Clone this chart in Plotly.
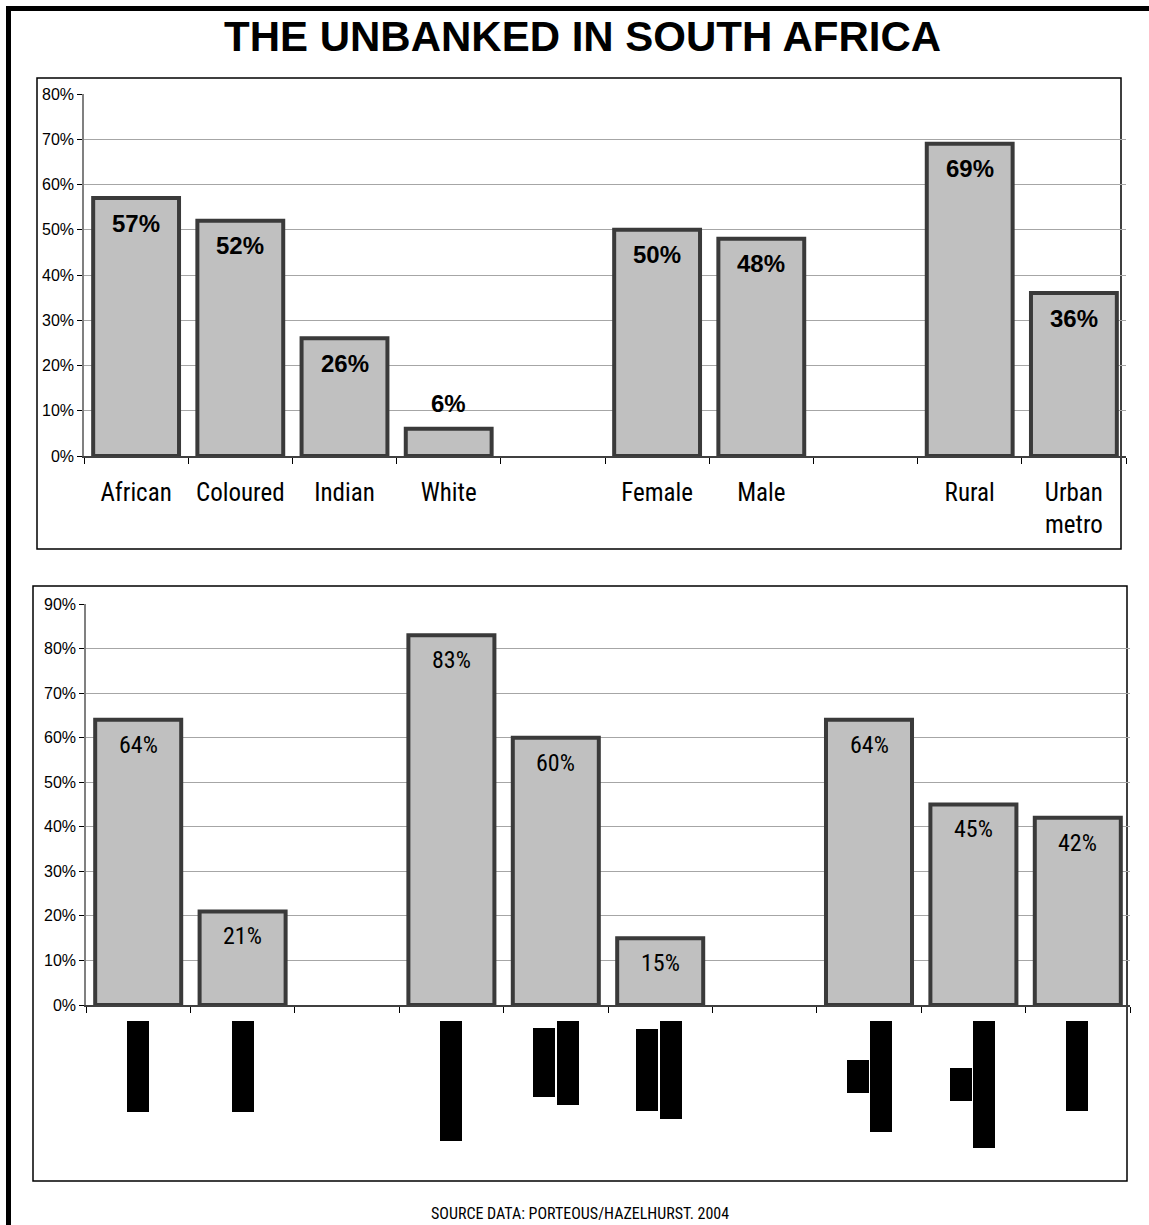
import plotly.graph_objects as go

W, H = 1149, 1225

# ---------------- data ----------------
top_categories = ["African", "Coloured", "Indian", "White", " ", "Female", "Male", "  ", "Rural", "Urban<br>metro"]
top_values = [57, 52, 26, 6, None, 50, 48, None, 69, 36]

bottom_categories = ["b0", "b1", "b2", "b3", "b4", "b5", "b6", "b7", "b8", "b9"]
bottom_values = [64, 21, None, 83, 60, 15, None, 64, 45, 42]

top_ticks = [0, 10, 20, 30, 40, 50, 60, 70, 80]
bottom_ticks = [0, 10, 20, 30, 40, 50, 60, 70, 80, 90]
top_tick_labels = ["0%", "10%", "20%", "30%", "40%", "50%", "60%", "70%", "80%"]
bottom_tick_labels = ["0%", "10%", "20%", "30%", "40%", "50%", "60%", "70%", "80%", "90%"]

title_text = "THE UNBANKED IN SOUTH AFRICA"
source_text = "SOURCE DATA: PORTEOUS/HAZELHURST. 2004"

# illegible (blacked-out) rotated category labels of the lower chart, page pixels: (x0, y0, x1, y1)
redacted_blocks = [
    (127, 1021, 149, 1112),
    (232, 1021, 254, 1112),
    (440, 1021, 462, 1141),
    (533, 1028, 555, 1097),
    (557, 1021, 579, 1105),
    (636, 1029, 658, 1111),
    (660, 1021, 682, 1119),
    (847, 1060, 869, 1093),
    (870, 1021, 892, 1132),
    (950, 1068, 972, 1101),
    (973, 1021, 995, 1148),
    (1066, 1021, 1088, 1111),
]

# ---------------- style ----------------
ARIAL = "Liberation Sans, Arial, sans-serif"
NARROW = "Liberation Sans Narrow, Arial Narrow, Roboto Condensed, sans-serif"
BAR_FILL = "#c0c0c0"
BAR_EDGE = "#3a3a3a"
GRID = "#a6a6a6"


def px(x):
    return x / W


def py(y):
    return 1 - y / H


fig = go.Figure()
fig.add_trace(go.Bar(
    x=top_categories, y=top_values, xaxis="x", yaxis="y",
    marker=dict(color=BAR_FILL, line=dict(color=BAR_EDGE, width=4)),
    hoverinfo="skip", showlegend=False,
))
fig.add_trace(go.Bar(
    x=bottom_categories, y=bottom_values, xaxis="x2", yaxis="y2",
    marker=dict(color=BAR_FILL, line=dict(color=BAR_EDGE, width=4)),
    hoverinfo="skip", showlegend=False,
))

annotations = []
for c, v in zip(top_categories, top_values):
    if v is None:
        continue
    annotations.append(dict(
        x=c, y=v, xref="x", yref="y", text=f"{v}%", showarrow=False,
        yshift=25 if v < 10 else -25, yanchor="middle",
        font=dict(family=ARIAL, size=24, color="#000000", weight="bold"),
    ))
for c, v in zip(bottom_categories, bottom_values):
    if v is None:
        continue
    annotations.append(dict(
        x=c, y=v, xref="x2", yref="y2", text=f"{v}%", showarrow=False,
        yshift=-25, yanchor="middle",
        font=dict(family=NARROW, size=24, color="#000000"),
    ))

annotations.append(dict(
    x=px(582), y=py(36), xref="paper", yref="paper", text=title_text,
    showarrow=False, xanchor="center", yanchor="middle",
    font=dict(family=ARIAL, size=42, color="#000000", weight="bold"),
))
annotations.append(dict(
    x=px(580), y=py(1213), xref="paper", yref="paper", text=source_text,
    showarrow=False, xanchor="center", yanchor="middle",
    font=dict(family=NARROW, size=16, color="#000000"),
))

shapes = []
# outer frame (top and left heavy rules)
shapes.append(dict(type="line", xref="paper", yref="paper", x0=px(6), x1=1, y0=py(8.5), y1=py(8.5),
                   line=dict(color="#000000", width=5)))
shapes.append(dict(type="line", xref="paper", yref="paper", x0=px(8.5), x1=px(8.5), y0=py(6), y1=0,
                   line=dict(color="#000000", width=5)))
# panel boxes
shapes.append(dict(type="rect", xref="paper", yref="paper", x0=px(37), x1=px(1121), y0=py(549), y1=py(78),
                   line=dict(color="#000000", width=1.5), layer="below"))
shapes.append(dict(type="rect", xref="paper", yref="paper", x0=px(33), x1=px(1127), y0=py(1181), y1=py(586),
                   line=dict(color="#000000", width=1.5), layer="below"))
for (x0, y0, x1, y1) in redacted_blocks:
    shapes.append(dict(type="rect", xref="paper", yref="paper", x0=px(x0), x1=px(x1), y0=py(y1), y1=py(y0),
                       line=dict(width=0), fillcolor="#000000"))

xaxis_common = dict(
    type="category", tickson="boundaries", ticks="outside", ticklen=6, tickcolor="#000000",
    showline=True, linecolor="#404040", linewidth=1.5, showgrid=False, zeroline=False,
    fixedrange=True, automargin=False,
)
yaxis_common = dict(
    ticks="outside", ticklen=5, tickcolor="#000000", tickmode="array",
    showline=True, linecolor="#808080", linewidth=1.5,
    showgrid=True, gridcolor=GRID, gridwidth=1, zeroline=False,
    tickfont=dict(family=ARIAL, size=16, color="#000000"),
    fixedrange=True, automargin=False,
)

fig.update_layout(
    template="none",
    width=W, height=H, autosize=False,
    margin=dict(l=0, r=0, t=0, b=0, pad=0, autoexpand=False),
    paper_bgcolor="#ffffff", plot_bgcolor="rgba(0,0,0,0)",
    bargap=0.176,
    xaxis=dict(domain=[px(84), px(1126)], anchor="y",
               categoryorder="array", categoryarray=top_categories,
               tickfont=dict(family=NARROW, size=25, color="#000000"),
               ticklabelstandoff=13, **xaxis_common),
    yaxis=dict(domain=[py(456), py(94)], anchor="x", range=[0, 80],
               tickvals=top_ticks, ticktext=top_tick_labels, **yaxis_common),
    xaxis2=dict(domain=[px(86), px(1130)], anchor="y2",
                categoryorder="array", categoryarray=bottom_categories,
                showticklabels=False, **xaxis_common),
    yaxis2=dict(domain=[py(1005), py(604)], anchor="x2", range=[0, 90],
                tickvals=bottom_ticks, ticktext=bottom_tick_labels, **yaxis_common),
    annotations=annotations,
    shapes=shapes,
)

fig.write_html(
    "out.html",
    config={"displayModeBar": False, "responsive": False},
    post_script="document.body.style.margin='0';document.body.style.padding='0';",
)
